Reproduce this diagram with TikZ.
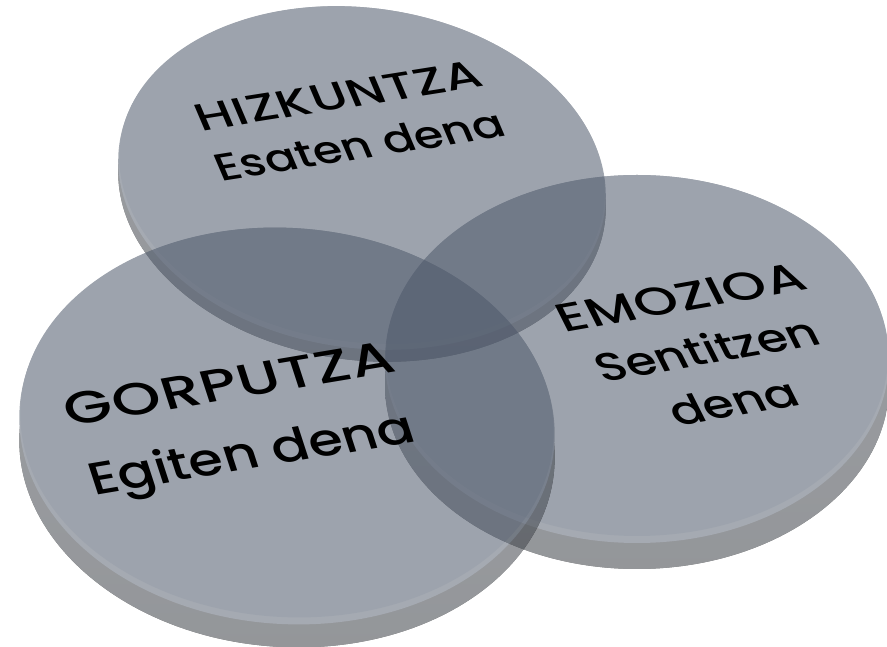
\documentclass[tikz,border=0pt]{standalone}
\usepackage{fontspec}
\setmainfont{Poppins Medium}[FakeStretch=1.2]
\usepackage{tikz}

\definecolor{facecol}{HTML}{4D586A}
\definecolor{bevelcol}{HTML}{5B6473}
\definecolor{rimtop}{HTML}{4A5058}
\definecolor{rimbot}{HTML}{3C4046}

\begin{document}
\begin{tikzpicture}[disc/.style={
  % see-through discs
  transparency group, opacity=0.55},
  rim/.style={top color=rimtop, bottom color=rimbot},
  tag/.style={
  % the text
  align=center, text=black, inner sep=0pt}]
  \useasboundingbox (0,0) rectangle (17.74,-12.94);

  % Hizkuntza
  \begin{scope}[disc]
    \fill [rim] (7.24,-3.80) ellipse [x radius=4.90, y radius=3.40, rotate=-8];
    \fill [bevelcol] (7.24,-3.56) ellipse [x radius=4.90, y radius=3.40, rotate=-8];
    \fill [facecol] (7.24,-3.50) ellipse [x radius=4.88, y radius=3.34, rotate=-8];
  \end{scope}
  % Emozioa
  \begin{scope}[disc]
    \fill [rim] (12.74,-7.70) ellipse [x radius=5.04, y radius=3.68];
    \fill [bevelcol] (12.74,-7.18) ellipse [x radius=5.04, y radius=3.68];
    \fill [facecol] (12.74,-7.11) ellipse [x radius=5.02, y radius=3.61];
  \end{scope}
  % Gorputza
  \begin{scope}[disc]
    \fill [rim] (5.74,-8.98) ellipse [x radius=5.36, y radius=3.96, rotate=-4];
    \fill [bevelcol] (5.74,-8.52) ellipse [x radius=5.36, y radius=3.96, rotate=-4];
    \fill [facecol] (5.74,-8.45) ellipse [x radius=5.34, y radius=3.89, rotate=-4];
  \end{scope}

  \node [tag, rotate=9, xslant=-0.25, font=\fontsize{22}{30}\selectfont] (hizk) at (6.98,-2.42)
    {{\addfontfeature{FakeStretch=1.35, LetterSpace=2}HIZKUNTZA}\\ Esaten dena};
  \node [tag, rotate=9.5, xslant=-0.15, font=\fontsize{26}{41}\selectfont] (gorp) at (4.84,-8.48)
    {{\addfontfeature{FakeStretch=1.35, LetterSpace=2}GORPUTZA}\\ Egiten dena};
  \node [tag, rotate=10, xslant=-0.3, font=\fontsize{23}{32}\selectfont] (emoz) at (14.14,-7.00)
    {{\addfontfeature{FakeStretch=1.35, LetterSpace=2}EMOZIOA}\\ Sentitzen\\ dena};

\end{tikzpicture}
\end{document}
